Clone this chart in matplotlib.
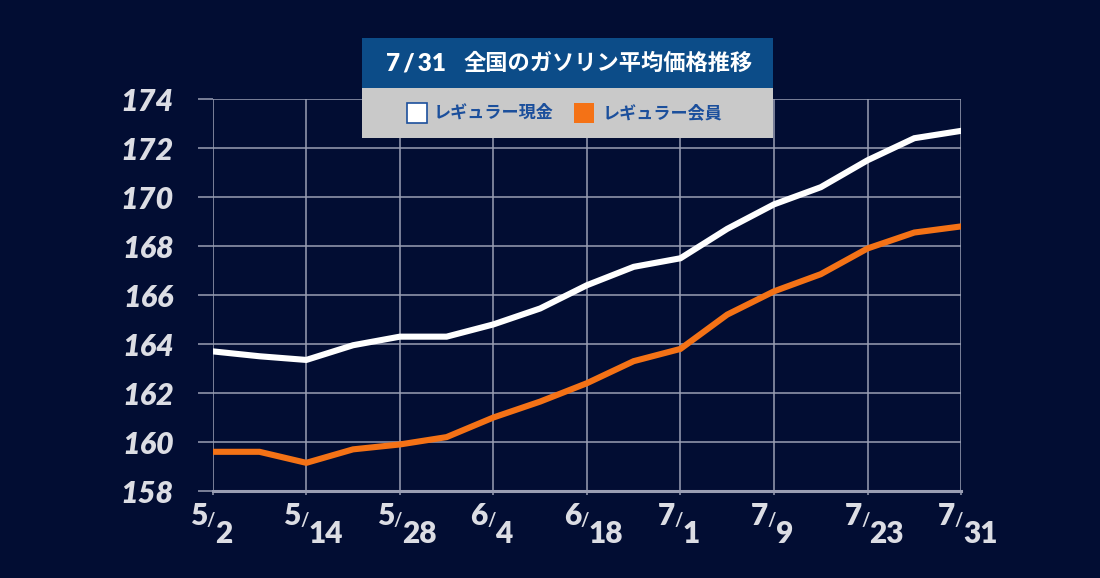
import numpy as np
import matplotlib.pyplot as plt
from matplotlib.patches import Rectangle

# データ
x_labels = [("5", "2"), ("5", "14"), ("5", "28"), ("6", "4"), ("6", "18"),
            ("7", "1"), ("7", "9"), ("7", "23"), ("7", "31")]
cash = [163.7, 163.5, 163.35, 163.95, 164.3, 164.3, 164.8, 165.45, 166.4,
        167.15, 167.5, 168.7, 169.7, 170.4, 171.5, 172.4, 172.7]
member = [159.6, 159.6, 159.15, 159.7, 159.9, 160.2, 161.0, 161.65, 162.4,
          163.3, 163.8, 165.2, 166.15, 166.85, 167.9, 168.55, 168.8]
y_ticks = [158, 160, 162, 164, 166, 168, 170, 172, 174]
title_date = "7\u2009/\u200931"
title = "全国のガソリン平均価格推移"
legend_names = ["レギュラー現金", "レギュラー会員"]

bg = "#020d33"
grid_c = "#9a9eb4"
label_c = "#dcdde4"
orange = "#f47216"

fig = plt.figure(figsize=(11, 5.78), dpi=100, facecolor=bg)
ax = fig.add_axes([0.1934, 0.1505, 0.6803, 0.6782], facecolor=bg)

t = np.arange(len(cash))
ax.plot(t, cash, color="white", lw=4.4, solid_joinstyle="miter", zorder=3)
ax.plot(t, member, color=orange, lw=4.4, solid_joinstyle="miter", zorder=3)

ax.set_xlim(0, 16)
ax.set_ylim(158, 174)
ax.set_yticks(y_ticks)
ax.set_xticks(np.arange(0, 17, 2))
ax.set_xticklabels([])
ax.grid(True, color=grid_c, lw=1.1)
ax.set_axisbelow(True)
for s in ["top", "right", "left"]:
    ax.spines[s].set_visible(False)
ax.spines["bottom"].set_color(grid_c)
ax.spines["bottom"].set_linewidth(2.2)
ax.tick_params(axis="y", length=11, width=1.1, color=grid_c, pad=17,
               labelcolor=label_c)
ax.tick_params(axis="x", length=3, width=1.1, color=grid_c)
for lab in ax.get_yticklabels():
    lab.set_fontfamily("Lato")
    lab.set_fontweight("heavy")
    lab.set_fontstyle("italic")
    lab.set_fontsize(22)

# 分数形式の日付ラベル
for i, (m, d) in enumerate(x_labels):
    xv = i * 2
    ax.annotate(m, (xv, 158), xytext=(-4, -8), textcoords="offset points",
                ha="right", va="top", color=label_c, fontsize=21.5,
                family="Lato", weight="heavy", annotation_clip=False)
    ax.annotate("/", (xv, 158), xytext=(-1.5, -15), textcoords="offset points",
                ha="center", va="top", color=label_c, fontsize=13,
                family="Lato", weight="bold", annotation_clip=False)
    ax.annotate(d, (xv, 158), xytext=(1.5, -21), textcoords="offset points",
                ha="left", va="top", color=label_c, fontsize=21.5,
                family="Lato", weight="heavy", annotation_clip=False)

# タイトルと凡例ボックス
W, H = 1100, 578
def box(x0, y0, x1, y1, fc, ec="none", lw=0):
    fig.add_artist(Rectangle((x0 / W, 1 - y1 / H), (x1 - x0) / W, (y1 - y0) / H,
                             transform=fig.transFigure, facecolor=fc,
                             edgecolor=ec, lw=lw, zorder=5))

box(362, 38, 773, 88.5, "#0c4c88")
box(362, 88.5, 773, 138, "#c9c9c9")
fig.text(386 / W, 1 - 64 / H, title_date, color="white", fontsize=17.5,
         family=["Lato", "DejaVu Sans"], weight="heavy", ha="left",
         va="center", zorder=6)
fig.text(463 / W, 1 - 63.5 / H, title, color="white", fontsize=16,
         family="Noto Sans CJK JP", weight="bold",
         ha="left", va="center", zorder=6)

box(406.5, 103, 426.5, 122.5, "white", ec="#1b4f9c", lw=1.2)
fig.text(434 / W, 1 - 113 / H, legend_names[0], color="#1b4f9c", fontsize=12.3,
         family="Noto Sans CJK JP", weight="bold", ha="left", va="center", zorder=6)
box(574, 103, 593.5, 122.5, orange)
fig.text(603 / W, 1 - 113 / H, legend_names[1], color="#1b4f9c", fontsize=12.3,
         family="Noto Sans CJK JP", weight="bold", ha="left", va="center", zorder=6)

fig.savefig("out.png", dpi=100, facecolor=bg)
